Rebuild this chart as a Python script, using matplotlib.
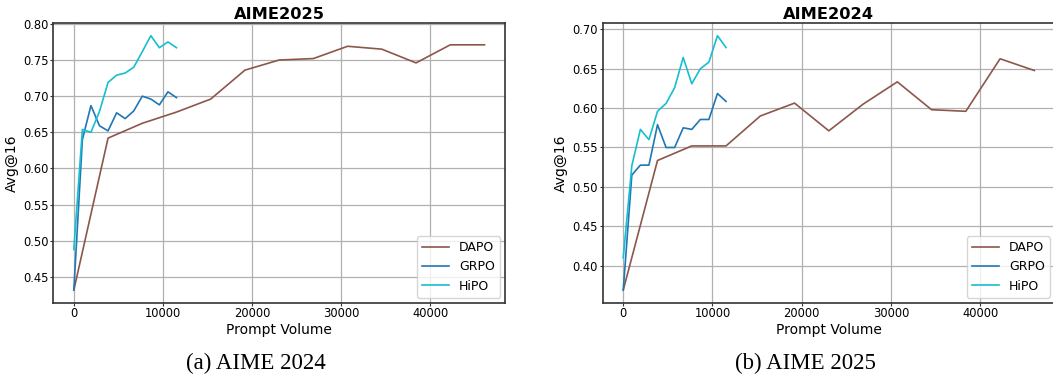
import matplotlib
matplotlib.use('Agg')
import matplotlib.pyplot as plt

# prompt volume steps
X_DAPO = [0, 3840, 7680, 11520, 15360, 19200, 23040, 26880, 30720, 34560, 38400, 42240, 46080]
X_FINE = [0, 960, 1920, 2880, 3840, 4800, 5760, 6720, 7680, 8640, 9600, 10560, 11520]

# left panel (AIME2025)
L_DAPO = [0.432, 0.642, 0.6625, 0.678, 0.696, 0.736, 0.750, 0.752, 0.769, 0.765, 0.746, 0.771, 0.771]
L_GRPO = [0.432, 0.640, 0.687, 0.659, 0.652, 0.677, 0.669, 0.6795, 0.700, 0.696, 0.688, 0.706, 0.698]
L_HIPO = [0.488, 0.654, 0.650, 0.679, 0.719, 0.729, 0.732, 0.740, 0.7615, 0.7836, 0.767, 0.775, 0.767]

# right panel (AIME2024)
R_DAPO = [0.369, 0.5335, 0.552, 0.552, 0.590, 0.6064, 0.5712, 0.605, 0.6334, 0.598, 0.596, 0.6627, 0.6478]
R_GRPO = [0.369, 0.515, 0.5276, 0.5276, 0.579, 0.550, 0.550, 0.575, 0.573, 0.5856, 0.5856, 0.6186, 0.6085]
R_HIPO = [0.410, 0.5268, 0.573, 0.560, 0.596, 0.606, 0.626, 0.6644, 0.631, 0.650, 0.6585, 0.692, 0.677]

PANELS = [
    ('AIME2025', L_DAPO, L_GRPO, L_HIPO, '(a) AIME 2024'),
    ('AIME2024', R_DAPO, R_GRPO, R_HIPO, '(b) AIME 2025'),
]
COLORS = {'DAPO': '#8c564b', 'GRPO': '#1f77b4', 'HiPO': '#17becf'}

W, H = 1053, 375
fig = plt.figure(figsize=(W / 100, H / 100), dpi=100)
boxes = [(53.3, 451.7), (602.7, 452.2)]
cap_x = [256, 805]

for (title, dapo, grpo, hipo, cap), (x0, w), cx in zip(PANELS, boxes, cap_x):
    ax = fig.add_axes([x0 / W, (H - 302.7) / H, w / W, 279.7 / H])
    ax.plot(X_DAPO, dapo, color=COLORS['DAPO'], lw=1.2, label='DAPO')
    ax.plot(X_FINE, grpo, color=COLORS['GRPO'], lw=1.2, label='GRPO')
    ax.plot(X_FINE, hipo, color=COLORS['HiPO'], lw=1.2, label='HiPO')
    ax.grid(True, color='#b0b0b0', lw=0.9)
    ax.set_axisbelow(True)
    ax.set_xticks([0, 10000, 20000, 30000, 40000])
    ax.set_title(title, fontsize=11.7, fontweight='bold', pad=3)
    ax.set_xlabel('Prompt Volume', fontsize=10, labelpad=2)
    ax.set_ylabel('Avg@16', fontsize=10, labelpad=3)
    ax.tick_params(labelsize=8.3, length=2.2, pad=1.2, color='#333333')
    for s in ax.spines.values():
        s.set_color('#333333')
        s.set_linewidth(1.2)
    ax.legend(loc='lower right', fontsize=9, handlelength=2.2, borderaxespad=0.4)
    fig.text(cx / W, (H - 369.5) / H, cap, family='Liberation Serif', fontsize=16.5,
             ha='center', va='baseline')

fig.savefig('out.png', dpi=100)
